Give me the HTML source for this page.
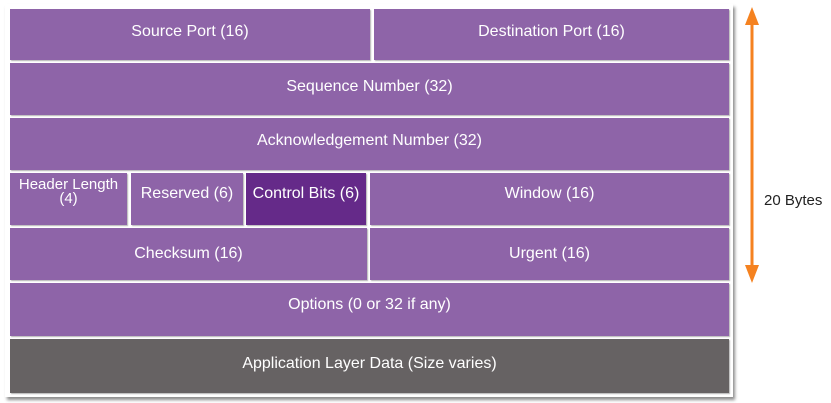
<!DOCTYPE html>
<html><head><style>
body{margin:0;width:831px;height:403px;background:#fff;position:relative;font-family:"Liberation Sans",sans-serif;overflow:hidden}
.frame{position:absolute;left:5px;top:4px;width:728px;height:393px;background:#fff;box-shadow:2px 3px 3px rgba(0,0,0,0.45)}
.b{position:absolute;background:#8e64a8;color:#fff;font-size:16px;display:flex;align-items:center;justify-content:center;text-align:center;line-height:14px;box-shadow:1px 1px 1px rgba(0,0,0,0.3);box-sizing:border-box;padding-bottom:5px}
</style></head><body>
<div class="frame"></div>
<div class="b" style="left:10px;top:9px;width:360px;height:51px">Source Port (16)</div>
<div class="b" style="left:374px;top:9px;width:355px;height:51px">Destination Port (16)</div>
<div class="b" style="left:10px;top:63px;width:719px;height:52px">Sequence Number (32)</div>
<div class="b" style="left:10px;top:118px;width:719px;height:52px;padding-bottom:7px">Acknowledgement Number (32)</div>
<div class="b" style="left:10px;top:173px;width:117px;height:52px;align-items:flex-start;padding-top:5px;padding-bottom:0;font-size:15px">Header Length<br>(4)</div>
<div class="b" style="left:131px;top:173px;width:112px;height:52px;padding-bottom:11px">Reserved (6)</div>
<div class="b" style="left:246px;top:173px;width:120px;height:52px;background:#652a89;padding-bottom:11px">Control Bits (6)</div>
<div class="b" style="left:370px;top:173px;width:359px;height:52px;padding-bottom:11px">Window (16)</div>
<div class="b" style="left:10px;top:228px;width:357px;height:52px;padding-bottom:1px">Checksum (16)</div>
<div class="b" style="left:370px;top:228px;width:359px;height:52px;padding-bottom:1px">Urgent (16)</div>
<div class="b" style="left:10px;top:283px;width:719px;height:53px;padding-bottom:9px">Options (0 or 32 if any)</div>
<div class="b" style="left:10px;top:339px;width:719px;height:54px;background:#666263;padding-bottom:4px">Application Layer Data (Size varies)</div>
<svg style="position:absolute;left:0;top:0" width="831" height="403">
<line x1="752" y1="18" x2="752" y2="272" stroke="#f58220" stroke-width="3"/>
<polygon points="752,7 745,25 759,25" fill="#f58220"/>
<polygon points="752,283 745,265 759,265" fill="#f58220"/>
</svg>
<div style="position:absolute;left:764px;top:192px;font-size:15px;color:#222">20 Bytes</div>
</body></html>
